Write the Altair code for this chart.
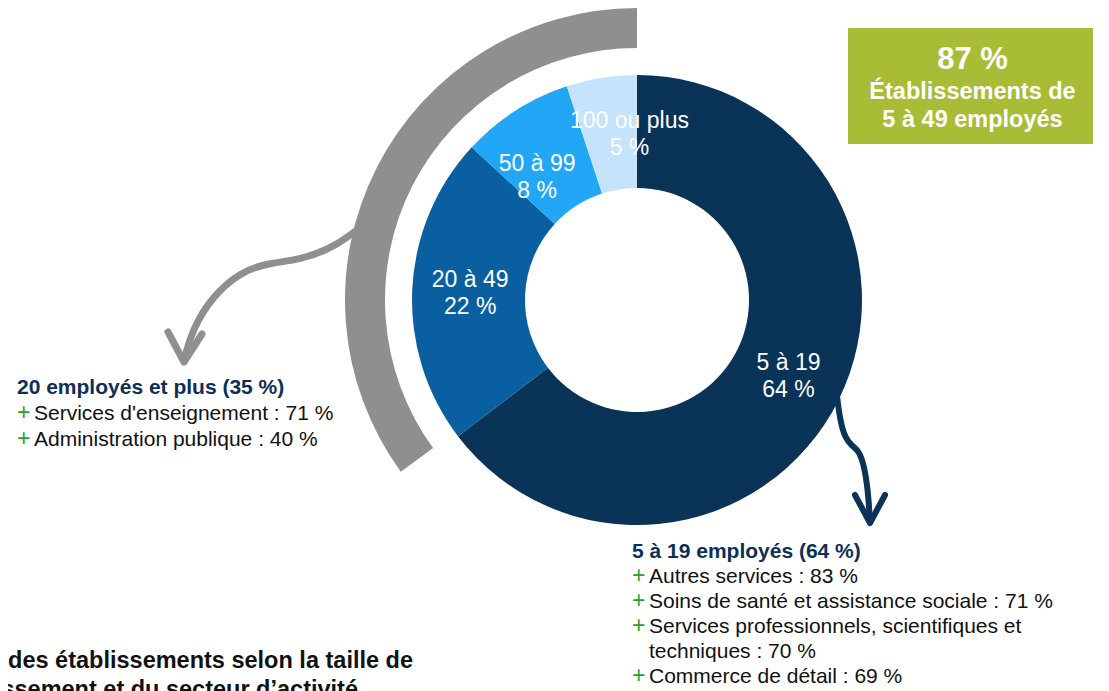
import altair as alt
import pandas as pd

FONT = "Liberation Sans"

# ---- donut data ----
cats = ["5 à 19", "20 à 49", "50 à 99", "100 ou plus"]
shares = [64, 22, 8, 5]
cat_colors = ["#0a3358", "#0a5fa0", "#22a7f7", "#c5e3fb"]

# gray outer arc: 20 employés et plus
big_share = [35]

# ---- annotation texts (page coordinates) ----
head_text = ["20 employés et plus (35 %)", "5 à 19 employés (64 %)"]
head_x = [17, 632]
head_y = [394, 558]

item_text = [
    "Services d'enseignement : 71 %",
    "Administration publique : 40 %",
    "Autres services : 83 %",
    "Soins de santé et assistance sociale : 71 %",
    "Services professionnels, scientifiques et",
    "techniques : 70 %",
    "Commerce de détail : 69 %",
]
item_bullet = [True, True, True, True, True, False, True]
item_x = [34, 34, 649, 649, 649, 649, 649]
item_y = [420, 446, 583, 608, 633, 658, 683]

box_x = [848]
box_x2 = [1093]
box_y = [28]
box_y2 = [144]
box_text = ["87 %", "Établissements de", "5 à 49 employés"]
box_text_y = [69, 99, 127]
box_text_size = [31, 23.5, 23.5]

title_text = ["des établissements selon la taille de", "l’établissement et du secteur d’activité"]
title_y = [668, 697]
title_x_right = [413, 358]

# arrows (page coordinates)
gray_shaft_x = [362, 335, 300, 268, 240, 212, 193, 184]
gray_shaft_y = [226, 247, 260, 263, 272, 297, 328, 360]
gray_head_x = [168, 184, 202]
gray_head_y = [332, 362, 334]

navy_shaft_x = [837, 840, 845, 852, 859, 864, 868, 870]
navy_shaft_y = [396, 420, 438, 446, 451, 465, 490, 522]
navy_head_x = [855, 870, 885]
navy_head_y = [495, 523, 495]

W, H = 1093, 683
CX, CY = 637 - 8, 300 - 8

xs = alt.Scale(domain=[8, 8 + W], nice=False, zero=False)
ys = alt.Scale(domain=[8, 8 + H], reverse=True, nice=False, zero=False)


def X(f):
    return alt.X(f, type="quantitative", scale=xs, axis=None)


def Y(f):
    return alt.Y(f, type="quantitative", scale=ys, axis=None)


donut_df = pd.DataFrame({
    "cat": cats,
    "share": shares,
    "idx": list(range(len(cats))),
    "label": [f"{c}\n{s} %" for c, s in zip(cats, shares)],
})

gray_df = pd.DataFrame({"share": big_share})

gray_arc = alt.Chart(gray_df).transform_calculate(
    start="100 - datum.share", end="100"
).mark_arc(radius=292, radius2=252, color="#8f8f8f").encode(
    theta=alt.Theta("start:Q", scale=alt.Scale(domain=[0, 100])),
    theta2="end:Q",
    x=alt.value(CX), y=alt.value(CY),
)

donut = alt.Chart(donut_df).mark_arc(radius=225, radius2=112).encode(
    theta=alt.Theta("share:Q", stack=True),
    color=alt.Color("cat:N", scale=alt.Scale(domain=cats, range=cat_colors), legend=None),
    order=alt.Order("idx:Q"),
    x=alt.value(CX), y=alt.value(CY),
)


def label_layer(filter_expr, dx, dy):
    base = alt.Chart(donut_df).transform_joinaggregate(
        total="sum(share)"
    ).transform_window(
        cum="sum(share)", sort=[alt.SortField("idx")]
    ).transform_calculate(
        frac="(datum.cum - datum.share / 2) / datum.total"
    ).transform_filter(filter_expr)
    return base.mark_text(
        radius=168, fontSize=23, lineBreak="\n", lineHeight=27, color="white",
        font=FONT, align="center", baseline="middle", dx=dx, dy=dy,
    ).encode(
        theta=alt.Theta("frac:Q", scale=alt.Scale(domain=[0, 1])),
        text="label:N",
        x=alt.value(CX), y=alt.value(CY),
    )


labels_big = label_layer("datum.idx < 2", 1, -12)
labels_mid = label_layer("datum.idx == 2", -9, 5)
labels_small = label_layer("datum.idx == 3", 19, -13)


def path_df(xs_, ys_):
    return pd.DataFrame({"x": xs_, "y": ys_, "i": list(range(len(xs_)))})


def arrow(xs_, ys_, color, width, interp):
    return alt.Chart(path_df(xs_, ys_)).mark_line(
        color=color, strokeWidth=width, strokeCap="round", strokeJoin="round",
        interpolate=interp,
    ).encode(x=X("x"), y=Y("y"), order=alt.Order("i:Q"))


gray_shaft = arrow(gray_shaft_x, gray_shaft_y, "#8f8f8f", 7, "basis")
gray_head = arrow(gray_head_x, gray_head_y, "#8f8f8f", 7, "linear")
navy_shaft = arrow(navy_shaft_x, navy_shaft_y, "#0a3358", 6, "basis")
navy_head = arrow(navy_head_x, navy_head_y, "#0a3358", 6, "linear")

box = alt.Chart(pd.DataFrame({"x": box_x, "x2": box_x2, "y": box_y, "y2": box_y2})).mark_rect(
    color="#a9bc35"
).encode(x=X("x"), x2="x2", y=Y("y"), y2="y2")

box_df = pd.DataFrame({
    "t": box_text, "y": box_text_y, "s": box_text_size,
    "x": [(box_x[0] + box_x2[0]) / 2 + 2] * 3,
})
box_txt = alt.Chart(box_df).mark_text(
    color="white", fontWeight="bold", font=FONT, align="center", baseline="alphabetic"
).encode(x=X("x"), y=Y("y"), text="t:N", size=alt.Size("s:Q", scale=None))

heads = alt.Chart(pd.DataFrame({"t": head_text, "x": head_x, "y": head_y})).mark_text(
    color="#0d2f57", fontWeight="bold", font=FONT, fontSize=21, align="left", baseline="alphabetic"
).encode(x=X("x"), y=Y("y"), text="t:N")

items_df = pd.DataFrame({"t": item_text, "x": item_x, "y": item_y, "b": item_bullet})
items = alt.Chart(items_df).mark_text(
    color="#111111", font=FONT, fontSize=21, align="left", baseline="alphabetic"
).encode(x=X("x"), y=Y("y"), text="t:N")

plus = alt.Chart(items_df).transform_filter("datum.b").transform_calculate(
    px="datum.x - 17", p="'+'"
).mark_text(
    color="#2e9e2e", font=FONT, fontSize=23, align="left", baseline="alphabetic"
).encode(x=X("px"), y=Y("y"), text="p:N")

title = alt.Chart(pd.DataFrame({"t": title_text, "y": title_y, "x": title_x_right})).mark_text(
    color="#111111", fontWeight="bold", font=FONT, fontSize=23.5, align="right", baseline="alphabetic"
).encode(x=X("x"), y=Y("y"), text="t:N")

chart = alt.layer(
    gray_arc, donut, labels_big, labels_mid, labels_small,
    gray_shaft, gray_head, navy_shaft, navy_head,
    box, box_txt, heads, items, plus, title,
).resolve_scale(theta="independent").properties(
    width=W, height=H, padding=0, autosize=alt.AutoSizeParams(type="none")
).configure_view(stroke=None)

chart.save("out.html", embed_options={"renderer": "svg", "actions": False})
